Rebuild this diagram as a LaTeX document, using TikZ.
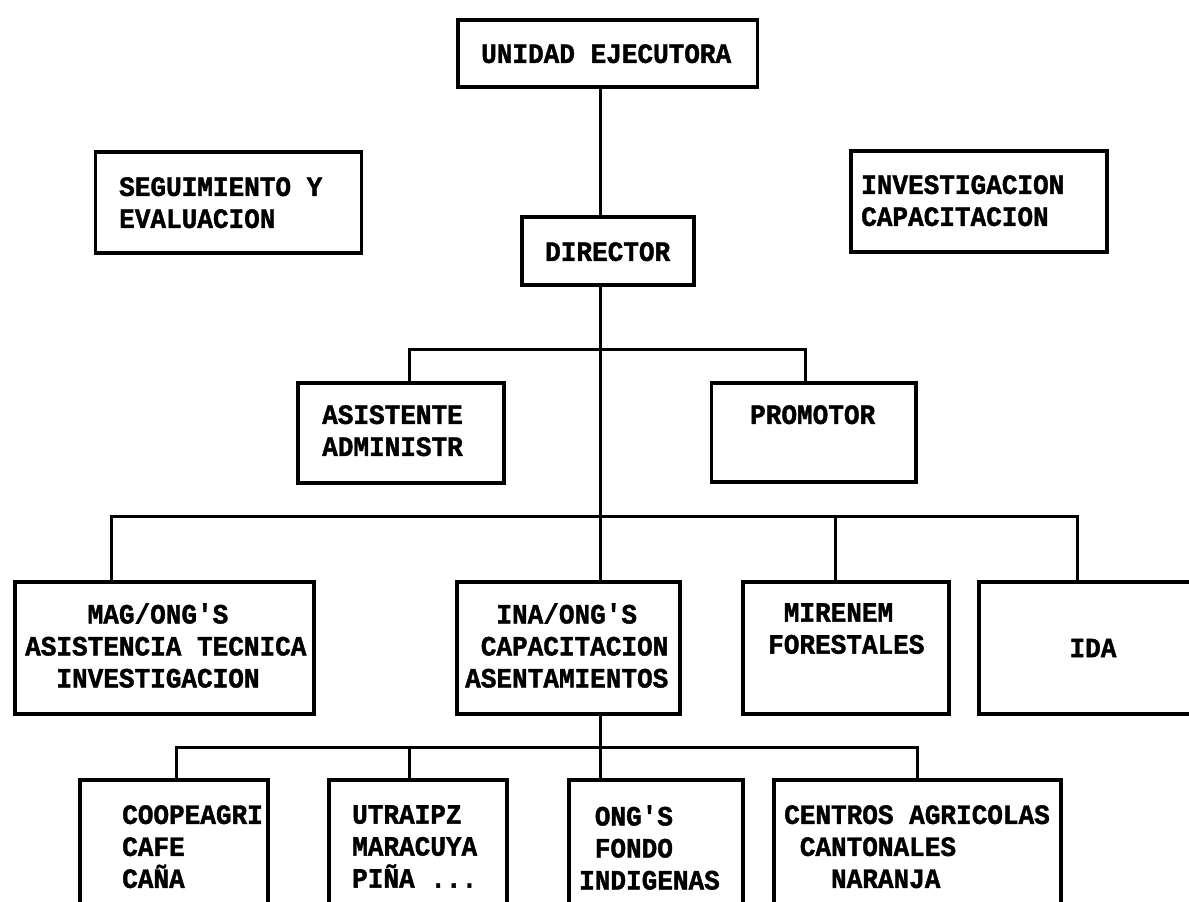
\documentclass[tikz,border=0pt]{standalone}
\usepackage{fontspec}
\setmonofont[FakeStretch=0.93,FakeBold=1.4]{Liberation Mono}
\newcommand{\myind}[1]{\hspace*{#1\dimexpr 15.62pt\relax}}
\begin{document}
\begin{tikzpicture}[x=1pt,y=-1pt,
  box/.style={draw=black, line width=3.2pt, rectangle, inner sep=0pt},
  txt/.style={font=\ttfamily\bfseries\fontsize{28}{32}\selectfont, inner sep=0pt, align=left, anchor=north west},
  link/.style={draw=black, line width=3pt}]
\useasboundingbox (0,0) rectangle (1189,902);
\clip (0,0) rectangle (1189,902);
\fill[white] (0,0) rectangle (1189,902);
% boxes
\node[box, minimum width=299.5, minimum height=67] (ue) at (607.75,53.5) {};
\node[box, minimum width=266, minimum height=101] (seg) at (228.5,202.5) {};
\node[box, minimum width=256, minimum height=101] (inv) at (979,201.5) {};
\node[box, minimum width=172, minimum height=68] (dir) at (608,251) {};
\node[box, minimum width=206, minimum height=100] (asi) at (401,433) {};
\node[box, minimum width=204.5, minimum height=99] (pro) at (813.75,432.5) {};
\node[box, minimum width=299, minimum height=132] (mag) at (164.5,648) {};
\node[box, minimum width=223, minimum height=132] (ina) at (568.5,648) {};
\node[box, minimum width=206, minimum height=132] (mir) at (846,648) {};
\node[box, minimum width=216, minimum height=132] (ida) at (1087,648) {};
\node[box, minimum width=188, minimum height=160] (coo) at (174,860) {};
\node[box, minimum width=178, minimum height=160] (utr) at (418,860) {};
\node[box, minimum width=174, minimum height=160] (ong) at (656,860) {};
\node[box, minimum width=287, minimum height=160] (cen) at (917.5,860) {};
% texts
\node[txt] (ue-t) at (481,44) {UNIDAD EJECUTORA};
\node[txt] (seg-t) at (119,177) {SEGUIMIENTO Y\\EVALUACION};
\node[txt] (inv-t) at (861,175) {INVESTIGACION\\CAPACITACION};
\node[txt] (dir-t) at (545,242) {DIRECTOR};
\node[txt] (asi-t) at (322,405) {ASISTENTE\\ADMINISTR};
\node[txt] (pro-t) at (750,405) {PROMOTOR};
\node[txt] (mag-t) at (25,603) {\myind{4}MAG/ONG'S\\ASISTENCIA TECNICA\\\myind{2}INVESTIGACION};
\node[txt] (ina-t) at (465,603) {\myind{2}INA/ONG'S\\\myind{1}CAPACITACION\\ASENTAMIENTOS};
\node[txt] (mir-t) at (768,603) {\myind{1}MIRENEM\\FORESTALES};
\node[txt, anchor=center] (ida-t) at (1093,648) {IDA};
\node[txt] (coo-t) at (122,805) {COOPEAGRI\\CAFE\\CAÑA};
\node[txt] (utr-t) at (352,805) {UTRAIPZ\\MARACUYA\\PIÑA ...};
\node[txt] (ong-t) at (579,805) {\myind{1}ONG'S\\\myind{1}FONDO\\INDIGENAS};
\node[txt] (cen-t) at (784,805) {CENTROS AGRICOLAS\\\myind{1}CANTONALES\\\myind{3}NARANJA};
% connector columns and bus ends
\coordinate (t) at (600,0);
\coordinate (k1a) at (409,349);
\coordinate (k1b) at (805,349);
\coordinate (k2a) at (111,516);
\coordinate (k2b) at (835.5,516);
\coordinate (k2c) at (1077,516);
\coordinate (k3a) at (176,747);
\coordinate (k3b) at (409,747);
\coordinate (k3c) at (917,747);
% trunk
\draw[link] (t |- ue.south) -- (t |- dir.north);
\draw[link] (t |- dir.south) -- (t |- ina.north);
\draw[link] (t |- ina.south) -- (t |- ong.north);
% bus 1
\draw[link] (k1a |- asi.north) -- (k1a) -- (k1b) -- (k1b |- pro.north);
% bus 2
\draw[link] (k2a |- mag.north) -- (k2a) -- (k2c) -- (k2c |- ida.north);
\draw[link] (k2b) -- (k2b |- mir.north);
% bus 3
\draw[link] (k3a |- coo.north) -- (k3a) -- (k3c) -- (k3c |- cen.north);
\draw[link] (k3b) -- (k3b |- utr.north);
\end{tikzpicture}
\end{document}
